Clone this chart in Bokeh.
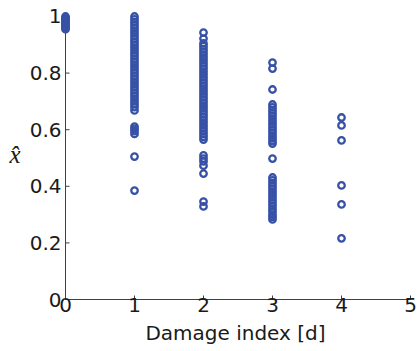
from bokeh.plotting import figure
from bokeh.models import Range1d, FixedTicker
from bokeh.embed import file_html
from bokeh.resources import INLINE

# ---- data ----
damage_levels = [0, 1, 2, 3, 4]
xhat_d0 = [1.0, 0.995, 0.99, 0.985, 0.98, 0.975, 0.97, 0.965, 0.96, 0.955]
xhat_d1 = [1.0, 0.99, 0.98, 0.97, 0.96, 0.95, 0.94, 0.93, 0.92, 0.91, 0.90,
           0.89, 0.88, 0.87, 0.86, 0.85, 0.84, 0.83, 0.82, 0.81, 0.80, 0.79,
           0.78, 0.77, 0.76, 0.75, 0.74, 0.73, 0.72, 0.71, 0.70, 0.69, 0.68,
           0.668, 0.611, 0.603, 0.595, 0.585, 0.505, 0.385]
xhat_d2 = [0.943, 0.922, 0.905, 0.895, 0.885, 0.875, 0.865, 0.855, 0.845,
           0.835, 0.825, 0.815, 0.805, 0.795, 0.785, 0.775, 0.765, 0.755,
           0.745, 0.735, 0.725, 0.715, 0.705, 0.695, 0.685, 0.675, 0.665,
           0.655, 0.645, 0.635, 0.625, 0.615, 0.605, 0.595, 0.585, 0.575,
           0.565, 0.509, 0.498, 0.488, 0.473, 0.445, 0.346, 0.329]
xhat_d3 = [0.837, 0.816, 0.742, 0.689, 0.679, 0.669, 0.659, 0.649, 0.639,
           0.629, 0.619, 0.609, 0.599, 0.589, 0.579, 0.569, 0.560, 0.551,
           0.498, 0.431, 0.421, 0.411, 0.401, 0.391, 0.381, 0.371, 0.361,
           0.351, 0.341, 0.331, 0.321, 0.311, 0.300, 0.292, 0.283]
xhat_d4 = [0.643, 0.615, 0.562, 0.403, 0.336, 0.216]

x_ticks = [0, 1, 2, 3, 4, 5]
y_ticks = [0, 0.2, 0.4, 0.6, 0.8, 1]
y_tick_labels = ["0", "0.2", "0.4", "0.6", "0.8", "1"]

# ---- build columns ----
groups = [xhat_d0, xhat_d1, xhat_d2, xhat_d3, xhat_d4]
xs, ys = [], []
for d, vals in zip(damage_levels, groups):
    xs += [d] * len(vals)
    ys += vals

FONT = "DejaVu Sans"
BLUE = "#3651a6"
AXC = "#404040"
TXT = "#1a1a1a"

p = figure(width=417, height=351, output_backend="svg", toolbar_location=None,
           x_range=Range1d(-0.0725, 5), y_range=Range1d(0, 1.0247),
           min_border_left=60, min_border_right=7,
           min_border_top=9, min_border_bottom=52)
p.outline_line_color = None
p.grid.visible = False
p.background_fill_color = "white"
p.border_fill_color = "white"

xa = p.xaxis[0]
ya = p.yaxis[0]
for ax in (xa, ya):
    ax.minor_tick_line_color = None
    ax.major_tick_out = 0
    ax.major_label_text_font = FONT
    ax.major_label_text_font_size = "20px"
    ax.major_label_text_color = TXT

xa.axis_line_color = AXC
xa.major_tick_line_color = AXC
xa.major_tick_in = 4
xa.bounds = (x_ticks[0], x_ticks[-1])
xa.ticker = FixedTicker(ticks=x_ticks)
xa.major_label_standoff = -2
xa.axis_label = "Damage index [d]"
xa.axis_label_text_font = FONT
xa.axis_label_text_font_size = "20px"
xa.axis_label_text_font_style = "normal"
xa.axis_label_text_color = TXT
xa.axis_label_standoff = 6

# y axis: labels from the library axis; its line/ticks drawn at x = 0 below
ya.axis_line_color = None
ya.major_tick_line_color = None
ya.major_tick_in = 0
ya.ticker = FixedTicker(ticks=y_ticks)
ya.major_label_overrides = {t: s for t, s in zip(y_ticks, y_tick_labels)}
ya.major_label_standoff = -1
ya.axis_label = "x\u0302"
ya.axis_label_orientation = "horizontal"
ya.axis_label_text_font = "Liberation Serif"
ya.axis_label_text_font_size = "25px"
ya.axis_label_text_font_style = "italic"
ya.axis_label_text_color = TXT
ya.axis_label_standoff = 6

p.segment(x0=[x_ticks[0]], y0=[y_ticks[0]], x1=[x_ticks[0]], y1=[y_ticks[-1]],
          line_color=AXC, line_width=1)
p.ray(x=[x_ticks[0]] * len(y_ticks), y=y_ticks, length=4, length_units="screen",
      angle=0, line_color=AXC, line_width=1)

p.scatter(xs, ys, marker="circle", size=6.5, fill_color=None,
          line_color=BLUE, line_width=2.3)

open("out.html", "w").write(file_html(p, INLINE))
